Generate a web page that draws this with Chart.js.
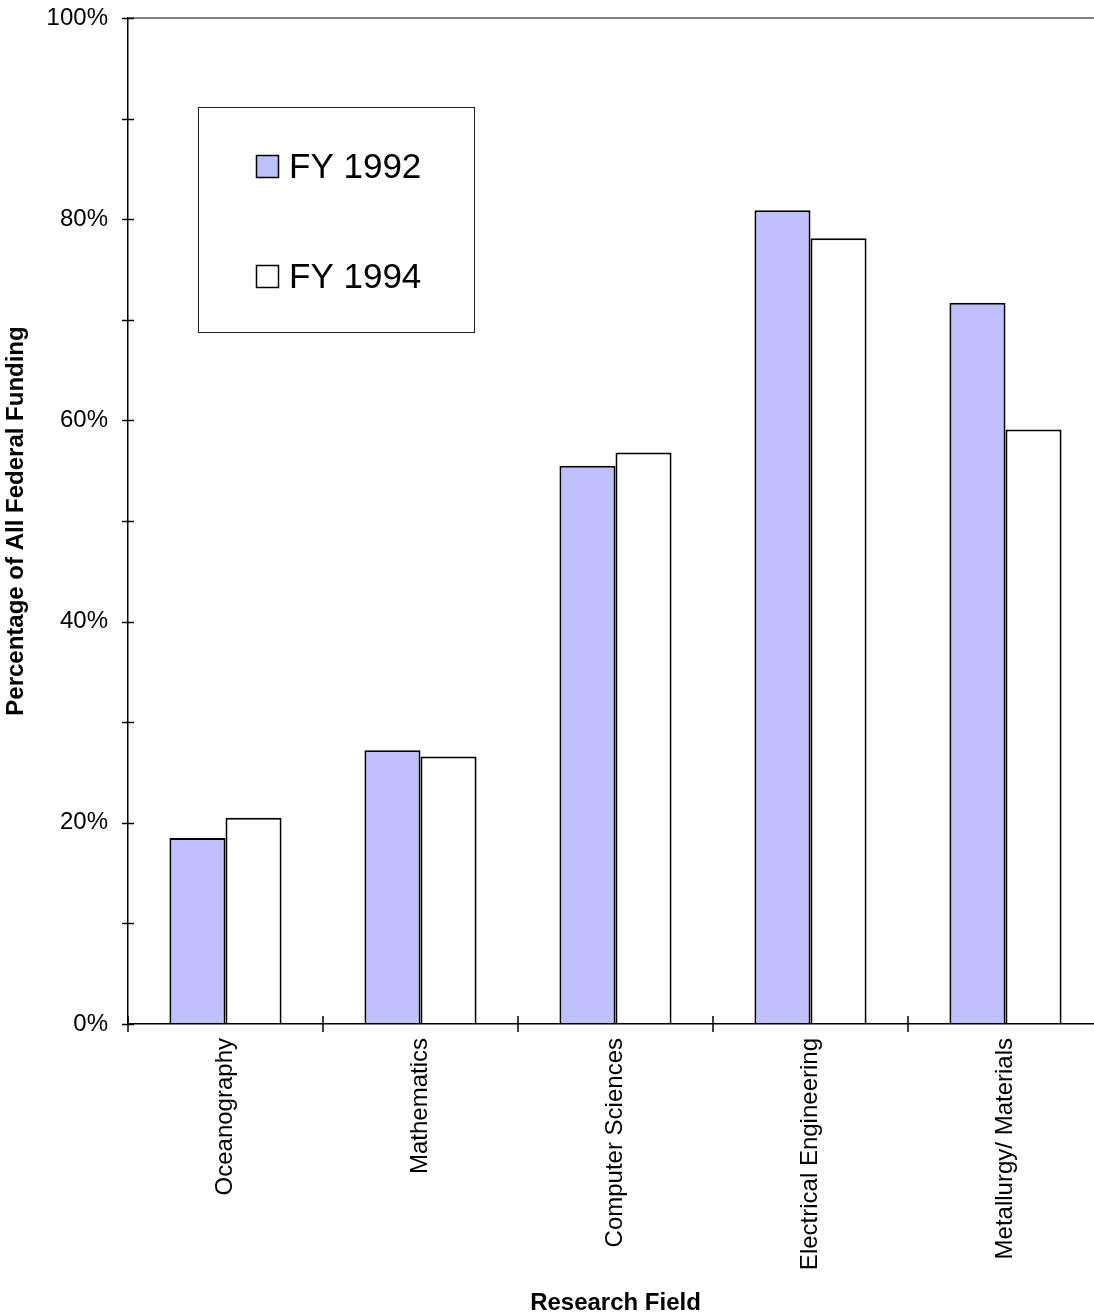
<!DOCTYPE html>
<html>
<head>
<meta charset="utf-8">
<script src="https://cdn.jsdelivr.net/npm/chart.js@4/dist/chart.umd.min.js"></script>
<style>
  html, body { margin: 0; padding: 0; background: #fff; overflow: hidden; }
  #wrap { position: absolute; left: 0; top: 0; width: 1103px; height: 1314px; }
</style>
</head>
<body>
<div id="wrap"><canvas id="c"></canvas></div>
<script>
const categories = ["Oceanography", "Mathematics", "Computer Sciences", "Electrical Engineering", "Metallurgy/ Materials"];
const seriesNames = ["FY 1992", "FY 1994"];
const fy1992 = [18.5, 27.2, 55.5, 80.9, 71.7];
const fy1994 = [20.5, 26.6, 56.8, 78.1, 59.1];
const yTickValues = [0, 20, 40, 60, 80, 100];

const FONT = "'Liberation Sans', Arial, sans-serif";

const crossTicks = {
  id: 'crossTicks',
  afterDraw(chart) {
    const ctx = chart.ctx;
    const x = chart.scales.x, y = chart.scales.y;
    ctx.save();
    ctx.strokeStyle = '#000';
    ctx.lineWidth = 1.5;
    for (let v = 0; v <= 100; v += 10) {
      const py = Math.round(y.getPixelForValue(v)) + 0.5;
      ctx.beginPath();
      ctx.moveTo(x.left - 6, py);
      ctx.lineTo(x.left + 6, py);
      ctx.stroke();
    }
    const n = categories.length;
    for (let i = 0; i < n; i++) {
      const half = (x.getPixelForValue(1) - x.getPixelForValue(0)) / 2;
      const px = Math.round(x.getPixelForValue(i) - half);
      ctx.beginPath();
      ctx.moveTo(px, y.bottom - 8);
      ctx.lineTo(px, y.bottom + 8);
      ctx.stroke();
    }
    ctx.restore();
  }
};

const boxLegend = {
  id: 'boxLegend',
  afterDraw(chart) {
    const ctx = chart.ctx;
    ctx.save();
    ctx.strokeStyle = '#222';
    ctx.lineWidth = 1;
    ctx.fillStyle = '#fff';
    ctx.fillRect(198.5, 107.5, 276, 225);
    ctx.strokeRect(198.5, 107.5, 276, 225);
    const rowsY = [167, 277];
    chart.data.datasets.forEach((ds, i) => {
      const cy = rowsY[i];
      ctx.fillStyle = ds.backgroundColor;
      ctx.fillRect(256.5, cy - 11.5, 22, 22);
      ctx.strokeStyle = '#000';
      ctx.lineWidth = 1.5;
      ctx.strokeRect(256.5, cy - 11.5, 22, 22);
      ctx.fillStyle = '#000';
      ctx.font = "35px " + FONT;
      ctx.textBaseline = 'middle';
      ctx.textAlign = 'left';
      ctx.fillText(ds.label, 289, cy + 1);
    });
    ctx.restore();
  }
};

new Chart(document.getElementById('c'), {
  type: 'bar',
  data: {
    labels: categories,
    datasets: [
      { label: seriesNames[0], data: fy1992, backgroundColor: '#C0C0FF', borderColor: '#000', borderWidth: 2, borderSkipped: 'bottom' },
      { label: seriesNames[1], data: fy1994, backgroundColor: '#FFFFFF', borderColor: '#000', borderWidth: 2, borderSkipped: 'bottom' }
    ]
  },
  options: {
    responsive: true,
    maintainAspectRatio: false,
    animation: false,
    layout: { padding: { top: 18, right: 0, left: 0, bottom: 0 } },
    datasets: { bar: { categoryPercentage: 0.575, barPercentage: 1.0 } },
    plugins: { legend: { display: false }, tooltip: { enabled: false } },
    scales: {
      x: {
        grid: { display: false, drawTicks: false },
        border: { display: true, color: '#000', width: 1.5 },
        ticks: {
          color: '#000', font: { family: FONT, size: 24 },
          minRotation: 90, maxRotation: 90, padding: 14, autoSkip: false
        },
        title: {
          display: true, text: 'Research Field', color: '#000',
          font: { family: FONT, size: 24, weight: 'bold' },
          padding: { top: 0, bottom: -4 }
        },
        afterFit(s) { s.height = 290; s.paddingTop = 0; s.paddingBottom = 0; s.paddingLeft = 0; s.paddingRight = 0; }
      },
      y: {
        min: 0, max: 100,
        grid: {
          drawTicks: false,
          color: (c) => (c.tick && c.tick.value === 100 ? '#808080' : 'rgba(0,0,0,0)'),
          lineWidth: 2
        },
        border: { display: true, color: '#000', width: 1.5 },
        ticks: {
          stepSize: 10, padding: 20, color: '#000',
          font: { family: FONT, size: 24 },
          callback: (v) => (yTickValues.includes(v) ? v + '%' : '')
        },
        title: {
          display: true, text: 'Percentage of All Federal Funding', color: '#000',
          font: { family: FONT, size: 24, weight: 'bold' },
          padding: { top: 2, bottom: 0 }
        },
        afterFit(s) { s.width = 128; s.paddingTop = 0; s.paddingBottom = 0; }
      }
    }
  },
  plugins: [crossTicks, boxLegend]
});
</script>
</body>
</html>
